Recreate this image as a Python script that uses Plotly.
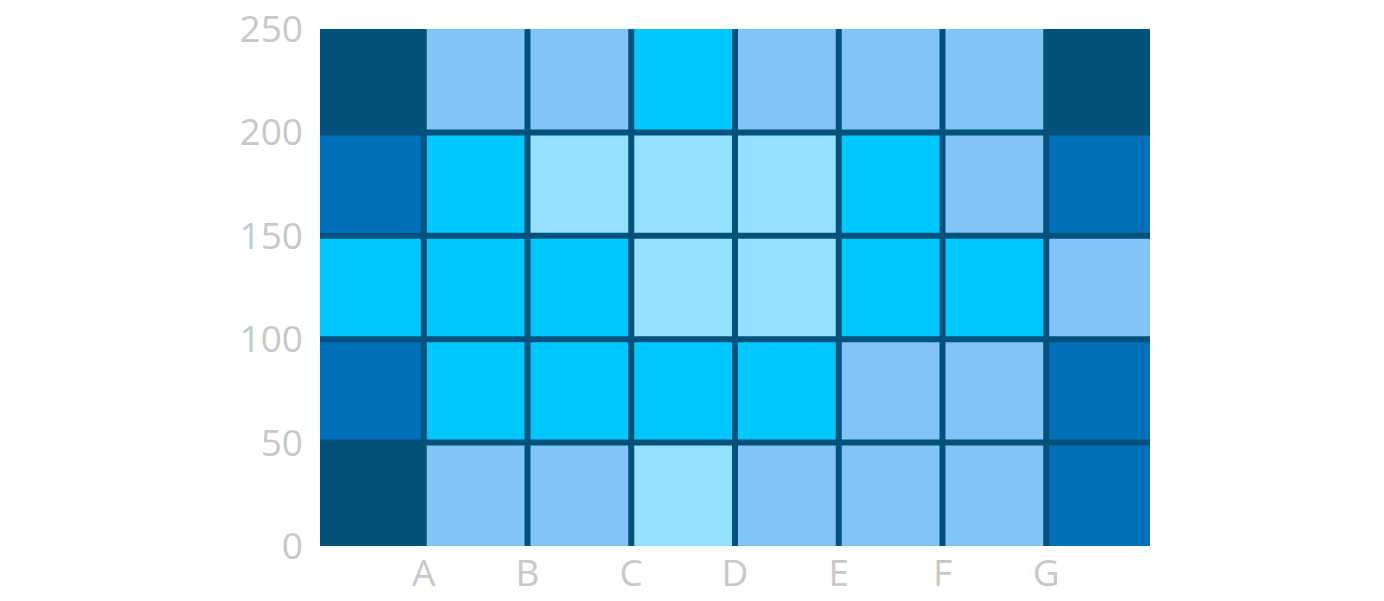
import plotly.graph_objects as go

# Data
x_tick_labels = ["A", "B", "C", "D", "E", "F", "G"]
y_tick_values = [0, 50, 100, 150, 200, 250]
col_index = [0, 1, 2, 3, 4, 5, 6, 7]
row_centers = [25, 75, 125, 175, 225]
# levels: 0=dark navy, 1=mid blue, 2=cyan, 3=light blue, 4=pale blue
z_rows = [
    [0, 3, 3, 4, 3, 3, 3, 1],  # 0-50
    [1, 2, 2, 2, 2, 3, 3, 1],  # 50-100
    [2, 2, 2, 4, 4, 2, 2, 3],  # 100-150
    [1, 2, 4, 4, 4, 2, 3, 1],  # 150-200
    [0, 3, 3, 2, 3, 3, 3, 0],  # 200-250
]
level_colors = ["#02527b", "#0070bb", "#00c8ff", "#82c4f8", "#94e1ff"]
grid_color = "#02527b"

n = len(level_colors)
colorscale = []
for i, c in enumerate(level_colors):
    colorscale.append([i / n, c])
    colorscale.append([(i + 1) / n, c])

fig = go.Figure(go.Heatmap(
    x=col_index, y=row_centers, z=z_rows,
    zmin=-0.5, zmax=n - 0.5,
    colorscale=colorscale, showscale=False, hoverinfo="skip",
))

x_tick_vals = [i + 0.5 for i in range(len(x_tick_labels))]
shapes = []
for xv in x_tick_vals:
    shapes.append(dict(type="line", xref="x", yref="paper", x0=xv, x1=xv, y0=0, y1=1,
                       line=dict(color=grid_color, width=6), layer="above"))
for yv in y_tick_values[1:-1]:
    shapes.append(dict(type="line", xref="paper", yref="y", x0=0, x1=1, y0=yv, y1=yv,
                       line=dict(color=grid_color, width=6), layer="above"))

tick_font = dict(family="Open Sans", size=37, color="#c8c8c8")
fig.update_layout(
    width=1376, height=593,
    margin=dict(l=312, r=234, t=21, b=55),
    paper_bgcolor="white", plot_bgcolor="white",
    shapes=shapes,
    xaxis=dict(range=[-0.5, len(col_index) - 0.5], tickmode="array",
               tickvals=x_tick_vals, ticktext=x_tick_labels,
               showgrid=False, zeroline=False, showline=False, automargin=False,
               tickfont=tick_font, ticklabelstandoff=2, ticklabeloverflow="allow"),
    yaxis=dict(range=[0, 250], tickmode="array", tickvals=y_tick_values,
               showgrid=False, zeroline=False, showline=False, automargin=False,
               tickfont=tick_font, ticklabelstandoff=16, ticklabeloverflow="allow"),
    showlegend=False,
)

fig.write_html("out.html")
